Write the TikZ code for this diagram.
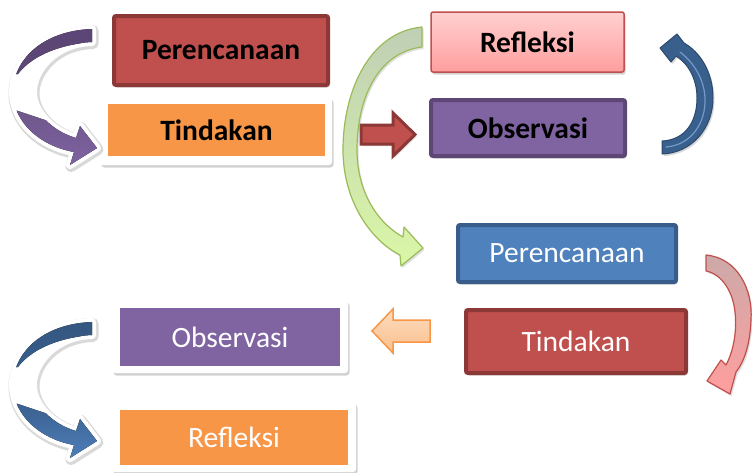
\documentclass[tikz,border=0pt]{standalone}
\usepackage{fontspec}
\setmainfont{Carlito}
\usetikzlibrary{shadows}
\definecolor{redF}{HTML}{C0504D}
\definecolor{redD}{HTML}{8C3836}
\definecolor{orangeF}{HTML}{F79646}
\definecolor{pinkT}{HTML}{FFD0D0}
\definecolor{pinkB}{HTML}{FF9E9E}
\definecolor{purpleF}{HTML}{8064A2}
\definecolor{purpleD}{HTML}{5C4776}
\definecolor{blueF}{HTML}{4F81BD}
\definecolor{blueD}{HTML}{385D8A}
\definecolor{greenD}{HTML}{9BBB59}
\definecolor{greenT}{HTML}{BFCFB5}
\definecolor{greenB}{HTML}{DAF7A6}
\definecolor{lorT}{HTML}{FDDCC0}
\definecolor{lorB}{HTML}{FBBF8C}
\definecolor{purT}{HTML}{5A4577}
\definecolor{pinkG}{HTML}{CDA9A9}
\newcommand\lcres{(92,29) .. controls (40,31) and (13,62) .. (13,92) .. controls (13,122) and (40,146) .. (74,152)
 -- (70,165) -- (97,148) -- (80,126) -- (76,138)
 .. controls (52,131) and (33,112) .. (33,92) .. controls (33,70) and (55,43) .. (92,42) -- cycle}
\tikzset{
  bx/.style={rounded corners=2pt, inner sep=0pt, outer sep=0pt, font=\fontsize{29.5}{33}\selectfont,
     drop shadow={opacity=0.35, shadow xshift=1.5pt, shadow yshift=-2.5pt}},
  thickbox/.style={bx, line width=4pt},
  boldtxt/.style={font=\fontsize{29.5}{33}\selectfont\bfseries, text=black},
  whitetxt/.style={text=white},
  frame/.style={rounded corners=3pt, fill=white, inner sep=0pt, outer sep=0pt,
     drop shadow={opacity=0.35, shadow xshift=1.5pt, shadow yshift=-2.5pt}},
  inbox/.style={inner sep=0pt, outer sep=0pt, font=\fontsize{29.5}{33}\selectfont},
  chalo/.style={draw=black!15, fill=black!15, line width=11pt, line join=round},
  cwhite/.style={fill=white, draw=white, line width=8pt, line join=round},
}
\begin{document}
\begin{tikzpicture}[x=1pt,y=-1pt]
\useasboundingbox (0,0) rectangle (752,472);
\fill[white] (0,0) rectangle (752,472);

% ---------- top-left group ----------
\node[thickbox, fill=redF, draw=redD, minimum width=214pt, minimum height=69pt, boldtxt] (p1) at (221,50.5) {Perencanaan};
\node[frame, minimum width=232pt, minimum height=68pt] (t1f) at (216,131) {};
\node[inbox, fill=orangeF, minimum width=217pt, minimum height=52pt, boldtxt] (t1) at (216.5,130) {Tindakan};

% purple curved arrow
\path[chalo, shift={(1pt,-1.5pt)}] \lcres;
\path[cwhite] \lcres;
\begin{scope}
  \clip \lcres;
  \fill[top color=purT, bottom color=purpleD] (0,0) -- (100,0) -- (100,42) -- (92,42)
     .. controls (55,45) and (30,58) .. (18,74) -- (0,74) -- cycle;
  \fill[top color=purpleF!85!black, bottom color=purpleF] (0,105) -- (45,120) -- (100,120) -- (100,170) -- (0,170) -- cycle;
\end{scope}

% ---------- top-right group ----------
\node[bx, top color=pinkT, bottom color=pinkB, draw=redF, line width=1.5pt, minimum width=193pt, minimum height=60pt, boldtxt] (r1) at (527.5,42) {Refleksi};
\node[thickbox, fill=purpleF, draw=purpleD, minimum width=194pt, minimum height=56pt, boldtxt] (o1) at (528,128) {Observasi};

% blue curved arrow (up)
\path[draw=blueD!80!black, line width=1pt, fill=blueD!95!blueF, line join=round,
      drop shadow={opacity=0.3, shadow xshift=1.5pt, shadow yshift=-2pt}]
 (662,154) .. controls (692,153) and (713,128) .. (713,98) .. controls (713,72) and (700,52) .. (684,43)
 -- (677,34) -- (660,48) -- (671,62) -- (676,56)
 .. controls (689,64) and (697,80) .. (697,98) .. controls (697,122) and (685,140) .. (662,141) -- cycle;
\path[draw=blueF!80!white, line width=1.2pt, line cap=round]
 (666,147) .. controls (692,145) and (706,122) .. (705,98) .. controls (704,78) and (693,62) .. (680,52);

% red block arrow
\path[fill=redF, draw=redD, line width=3pt, line join=miter,
      drop shadow={opacity=0.3, shadow xshift=1.5pt, shadow yshift=-2pt}]
 (361,125) -- (393,125) -- (393,113) -- (415,134.5) -- (393,156) -- (393,144) -- (361,144) -- cycle;

% green curved arrow
\path[draw=greenD, line width=1.2pt, top color=greenT, bottom color=greenB, line join=round,
      drop shadow={opacity=0.25, shadow xshift=1.5pt, shadow yshift=-2pt}]
 (422,27) .. controls (370,32) and (343,90) .. (343,150) .. controls (343,200) and (370,240) .. (400,255)
 -- (401,266) -- (423,248) -- (404,227) -- (403,237)
 .. controls (376,222) and (357,190) .. (357,150) .. controls (357,95) and (380,52) .. (422,47) -- cycle;

% ---------- lower-right group ----------
\node[thickbox, fill=blueF, draw=blueD, minimum width=218pt, minimum height=57pt, whitetxt] (p2) at (567,253.5) {Perencanaan};
\node[thickbox, fill=redF, draw=redD, minimum width=220pt, minimum height=63pt, whitetxt] (t2) at (576,341.5) {Tindakan};

% pink curved arrow
\path[draw=redF, line width=1.2pt, top color=pinkG, bottom color=pinkB, line join=round,
      drop shadow={opacity=0.25, shadow xshift=1.5pt, shadow yshift=-2pt}]
 (706,255) .. controls (738,258) and (753,290) .. (751,320) .. controls (750,345) and (744,362) .. (736,372)
 -- (730,394) -- (707,381) -- (721,360) -- (726,365)
 .. controls (734,350) and (737,330) .. (735,312) .. controls (733,292) and (722,274) .. (706,271) -- cycle;

% orange block arrow (left)
\path[draw=orangeF, line width=1.5pt, top color=lorT, bottom color=lorB, line join=miter]
 (430,320) -- (393,320) -- (393,309) -- (372,331) -- (393,353) -- (393,342) -- (430,342) -- cycle;

% ---------- lower-left group ----------
\node[frame, minimum width=236pt, minimum height=73pt] (o2f) at (230,336.5) {};
\node[inbox, fill=purpleF, minimum width=220pt, minimum height=58pt, whitetxt] (o2) at (230,337) {Observasi};
\node[frame, minimum width=244pt, minimum height=70pt] (r2f) at (234,437) {};
\node[inbox, fill=orangeF, minimum width=228pt, minimum height=55pt, whitetxt] (r2) at (234,437.5) {Refleksi};

% blue curved arrow (bottom-left)
\begin{scope}[yshift=-293pt]
\path[chalo, shift={(1pt,-1.5pt)}] \lcres;
\path[cwhite] \lcres;
\begin{scope}
  \clip \lcres;
  \fill[top color=blueD!90!black, bottom color=blueD] (0,0) -- (100,0) -- (100,42) -- (92,42)
     .. controls (55,45) and (30,58) .. (18,74) -- (0,74) -- cycle;
  \fill[top color=blueD, bottom color=blueF] (0,105) -- (45,120) -- (100,120) -- (100,170) -- (0,170) -- cycle;
\end{scope}
\end{scope}
\end{tikzpicture}
\end{document}
